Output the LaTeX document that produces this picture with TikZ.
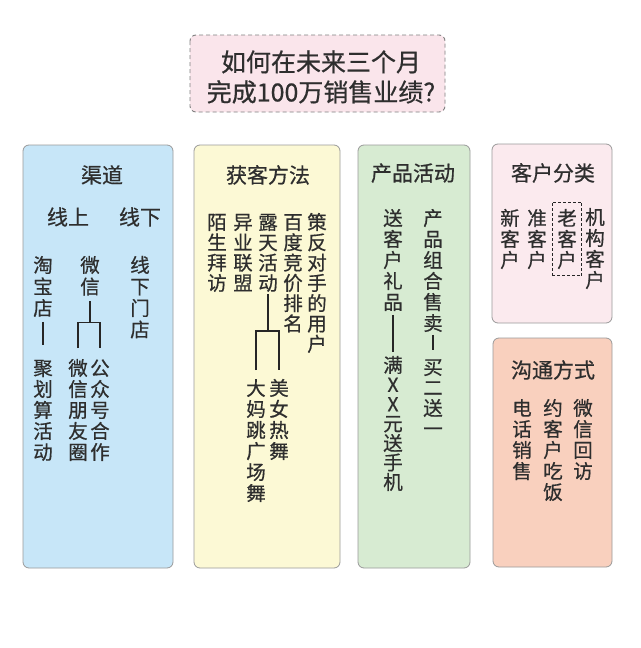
\documentclass[tikz,border=0pt]{standalone}
\usepackage{fontspec}
\newfontfamily\cjk[FakeBold=0.6]{Noto Sans CJK SC}
\usetikzlibrary{fit}
\definecolor{txt}{HTML}{2E2E2E}
\definecolor{bordergray}{HTML}{9A9A9A}
\definecolor{bluefill}{HTML}{C7E6F8}
\definecolor{yellowfill}{HTML}{FCF9D5}
\definecolor{greenfill}{HTML}{D7EBD2}
\definecolor{pinkfill}{HTML}{FBEAEE}
\definecolor{orangefill}{HTML}{F9D0BE}
\definecolor{titlefill}{HTML}{FAE5EB}
\newcommand\vcol[5]{\foreach \vv [count=\i] in {#5} {\node[cc] (#1-\i) at (#2,{#3+(\i-1)*#4}) {\vv};}}
\begin{document}
\begin{tikzpicture}[x=1pt,y=-1pt,
  panel/.style={draw=bordergray, line width=0.8pt, rounded corners=6pt},
  cc/.style={font=\fontsize{19.5}{19.5}\selectfont\cjk, text=txt, inner sep=0pt, text height=17.16pt, text depth=2.34pt},
  hd/.style={font=\fontsize{21}{21}\selectfont\cjk, text=txt, inner sep=0pt, text height=18.48pt, text depth=2.52pt},
  conn/.style={draw=black!85, line width=1.3pt}]
\useasboundingbox[fill=white] (0,0) rectangle (640,648);

% title
\draw[draw=gray, line width=0.9pt, dashed, dash pattern=on 4pt off 3pt, rounded corners=6pt, fill=titlefill] (190,35) rectangle (445,112);
\node[font=\fontsize{25}{30}\selectfont\cjk, text=txt, align=center] (title) at (321,77) {如何在未来三个月\\完成100万销售业绩?};

% panels
\draw[panel, fill=bluefill] (23,145) rectangle (173,568);
\draw[panel, fill=yellowfill] (194,145) rectangle (340,568);
\draw[panel, fill=greenfill] (358,145) rectangle (470,568);
\draw[panel, fill=pinkfill] (492,144) rectangle (612,323);
\draw[panel, fill=orangefill] (493,338) rectangle (612,567);

% 渠道
\node[hd] (hqd) at (102,175) {渠道};
\node[hd] (hxs) at (68,217) {线上};
\node[hd] (hxx) at (140,217) {线下};
\vcol{tb}{43}{265}{21.5}{淘,宝,店}
\vcol{wx}{90}{265}{21.5}{微,信}
\vcol{xx}{140}{265}{21.5}{线,下,门,店}
\vcol{jh}{43}{368}{21}{聚,划,算,活,动}
\vcol{py}{78}{368}{21}{微,信,朋,友,圈}
\vcol{gz}{100}{368}{21}{公,众,号,合,作}
\draw[conn] ([yshift=-4pt]tb-3.south) -- ([yshift=13pt]jh-1.north);
\draw[conn] ([yshift=-5pt]wx-2.south) -- ++(0,21) coordinate (wxf);
\draw[conn] ([yshift=10pt]py-1.north) |- (wxf) -| ([yshift=10pt]gz-1.north);

% 获客方法
\node[hd] (hhk) at (268,175) {获客方法};
\vcol{mb}{217}{222}{20.3}{陌,生,拜,访}
\vcol{yy}{243}{222}{20.3}{异,业,联,盟}
\vcol{lt}{268}{222}{20.3}{露,天,活,动}
\vcol{bd}{293}{222}{20.3}{百,度,竞,价,排,名}
\vcol{cf}{317}{222}{20.3}{策,反,对,手,的,用,户}
\vcol{dm}{256}{388}{21}{大,妈,跳,广,场,舞}
\vcol{mn}{279}{388}{21}{美,女,热,舞}
\draw[conn] ([yshift=-1pt]lt-4.south) -- ++(0,37) coordinate (ltf);
\draw[conn] ([yshift=8pt]dm-1.north) |- (ltf) -| ([yshift=8pt]mn-1.north);

% 产品活动
\node[hd] (hcp) at (413,173) {产品活动};
\vcol{sk}{393}{218}{21}{送,客,户,礼,品}
\vcol{cz}{433}{218}{21}{产,品,组,合,售,卖}
\vcol{mx}{393}{365}{19.5}{满,X,X,元,送,手,机}
\vcol{me}{433}{367}{20.5}{买,二,送,一}
\draw[conn] ([yshift=-3pt]sk-5.south) -- ([yshift=3pt]mx-1.north);
\draw[conn] ([yshift=-2pt]cz-6.south) -- ([yshift=7pt]me-1.north);

% 客户分类
\node[hd] (hkh) at (553,173) {客户分类};
\vcol{xk}{510}{218}{21}{新,客,户}
\vcol{zk}{537}{218}{21}{准,客,户}
\vcol{lk}{567}{218}{21}{老,客,户}
\vcol{jg}{595}{217}{21}{机,构,客,户}
\node[draw=black!85, line width=1pt, dashed, dash pattern=on 3pt off 2pt, inner xsep=5pt, inner ysep=6pt, fit=(lk-1)(lk-3)] (lkbox) {};

% 沟通方式
\node[hd] (hgt) at (553,370) {沟通方式};
\vcol{dh}{522}{408}{21}{电,话,销,售}
\vcol{yk}{553}{408}{21}{约,客,户,吃,饭}
\vcol{wh}{583}{408}{21}{微,信,回,访}
\end{tikzpicture}
\end{document}
